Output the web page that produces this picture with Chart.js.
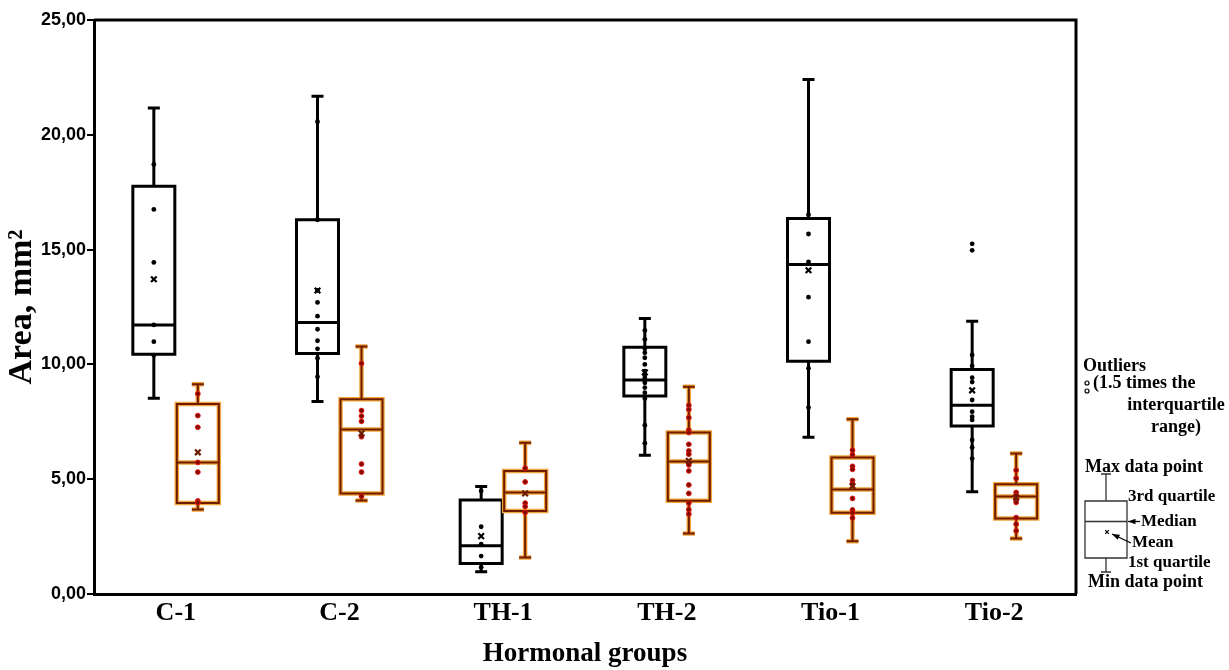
<!DOCTYPE html>
<html>
<head>
<meta charset="utf-8">
<title>Hormonal groups – area</title>
<script src="https://cdn.jsdelivr.net/npm/chart.js@4.4.1/dist/chart.umd.min.js"></script>
<style>
  html, body { margin: 0; padding: 0; background: #fff; }
  #wrap { width: 1229px; height: 670px; }
</style>
</head>
<body>
<div id="wrap"><canvas id="boxChart" width="1229" height="670"></canvas></div>
<script>
// --- data ---
const groups = ['C-1', 'C-2', 'TH-1', 'TH-2', 'Tio-1', 'Tio-2'];
const yTicks = [0, 5, 10, 15, 20, 25];

// black boxes
const blackMin    = [8.53, 8.38, 0.97, 6.04, 6.83, 4.45];
const blackQ1     = [10.44, 10.47, 1.33, 8.62, 10.14, 7.32];
const blackMedian = [11.72, 11.83, 2.10, 9.32, 14.35, 8.22];
const blackQ3     = [17.76, 16.30, 4.09, 10.75, 16.35, 9.78];
const blackMax    = [21.17, 21.68, 4.68, 12.00, 22.41, 11.88];
const blackMean   = [13.71, 13.22, 2.52, 9.65, 14.10, 8.87];
const blackPoints = [
  [18.71, 16.75, 14.44, 11.72, 10.99, 10.40],
  [20.57, 16.30, 13.22, 12.70, 12.10, 11.53, 11.03, 10.68, 10.27, 9.46],
  [4.49, 2.93, 2.17, 1.65, 1.16],
  [11.48, 11.09, 10.68, 10.51, 10.29, 10.00, 9.71, 9.57, 9.42, 9.20, 8.99, 8.77, 8.51, 7.35, 6.57],
  [16.52, 15.68, 14.46, 12.93, 10.99, 9.83, 8.12],
  [15.25, 14.97, 10.41, 9.93, 9.42, 9.23, 8.45, 7.94, 7.72, 7.58, 6.71, 6.38, 5.90]
];

// orange boxes
const orangeMin    = [3.68, 4.07, 1.59, 2.64, 2.30, 2.42];
const orangeQ1     = [3.96, 4.38, 3.61, 4.06, 3.54, 3.29];
const orangeMedian = [5.73, 7.16, 4.42, 5.77, 4.55, 4.25];
const orangeQ3     = [8.27, 8.48, 5.36, 7.03, 5.95, 4.78];
const orangeMax    = [9.14, 10.78, 6.59, 9.03, 7.61, 6.12];
const orangeMean   = [6.17, 7.00, 4.38, 5.80, 4.70, 4.20];
const orangePoints = [
  [8.72, 7.77, 7.26, 5.73, 5.31, 4.05, 3.98],
  [10.04, 7.99, 7.75, 7.52, 6.85, 5.66, 5.31, 4.26],
  [5.48, 4.88, 3.96, 3.81, 3.55],
  [8.22, 8.04, 7.68, 7.14, 7.03, 6.52, 6.23, 6.09, 5.62, 5.36, 4.75, 4.38, 3.96, 3.67, 3.48],
  [6.26, 6.06, 5.56, 5.43, 4.94, 4.78, 4.16, 3.66, 3.54, 3.31],
  [5.39, 5.04, 4.42, 4.28, 4.13, 3.99, 3.33, 3.04, 2.75]
];

const series = [
  { min: blackMin, q1: blackQ1, med: blackMedian, q3: blackQ3, max: blackMax, mean: blackMean, pts: blackPoints,
    strokes: [{ c: '#000', w: 3 }], dot: '#000', dotEdge: null, meanColor: '#000' },
  { min: orangeMin, q1: orangeQ1, med: orangeMedian, q3: orangeQ3, max: orangeMax, mean: orangeMean, pts: orangePoints,
    strokes: [{ c: '#f2a33a', w: 4.5 }, { c: '#6e1c00', w: 2 }], dot: '#7d0c00', dotEdge: '#e3150f', meanColor: '#6e1c00' }
];

const serif = '"Liberation Serif", "Times New Roman", serif';
const sans = '"Liberation Sans", Arial, sans-serif';

function strokePath(ctx, strokes, draw) {
  strokes.forEach(s => {
    ctx.beginPath();
    draw();
    ctx.strokeStyle = s.c;
    ctx.lineWidth = s.w;
    ctx.stroke();
  });
}

function drawCross(ctx, x, y, r, color, w) {
  ctx.beginPath();
  ctx.moveTo(x - r, y - r); ctx.lineTo(x + r, y + r);
  ctx.moveTo(x + r, y - r); ctx.lineTo(x - r, y + r);
  ctx.strokeStyle = color;
  ctx.lineWidth = w;
  ctx.stroke();
}

function arrow(ctx, x1, y1, x2, y2) {
  // line from (x1,y1) with head at (x2,y2)
  const a = Math.atan2(y2 - y1, x2 - x1);
  ctx.beginPath();
  ctx.moveTo(x1, y1); ctx.lineTo(x2, y2);
  ctx.lineWidth = 1.3;
  ctx.stroke();
  ctx.beginPath();
  ctx.moveTo(x2, y2);
  ctx.lineTo(x2 - 8 * Math.cos(a - 0.35), y2 - 8 * Math.sin(a - 0.35));
  ctx.lineTo(x2 - 8 * Math.cos(a + 0.35), y2 - 8 * Math.sin(a + 0.35));
  ctx.closePath();
  ctx.fill();
}

// whiskers, boxes, medians, points and means on top of the floating bars
const boxExtras = {
  id: 'boxExtras',
  afterDatasetsDraw(chart) {
    const ctx = chart.ctx;
    const ys = chart.scales.y;
    ctx.save();
    series.forEach((s, di) => {
      const meta = chart.getDatasetMeta(di);
      meta.data.forEach((bar, i) => {
        const { x, width } = bar.getProps(['x', 'width'], true);
        const l = x - width / 2, r = x + width / 2;
        const pMin = ys.getPixelForValue(s.min[i]);
        const pQ1 = ys.getPixelForValue(s.q1[i]);
        const pMed = ys.getPixelForValue(s.med[i]);
        const pQ3 = ys.getPixelForValue(s.q3[i]);
        const pMax = ys.getPixelForValue(s.max[i]);
        const cap = 6;
        strokePath(ctx, s.strokes, () => {
          ctx.moveTo(x, pQ3); ctx.lineTo(x, pMax);
          ctx.moveTo(x - cap, pMax); ctx.lineTo(x + cap, pMax);
          ctx.moveTo(x, pQ1); ctx.lineTo(x, pMin);
          ctx.moveTo(x - cap, pMin); ctx.lineTo(x + cap, pMin);
          ctx.rect(l, pQ3, r - l, pQ1 - pQ3);
          ctx.moveTo(l, pMed); ctx.lineTo(r, pMed);
        });
        s.pts[i].forEach(v => {
          ctx.beginPath();
          ctx.arc(x, ys.getPixelForValue(v), 2.4, 0, Math.PI * 2);
          ctx.fillStyle = s.dot;
          ctx.fill();
          if (s.dotEdge) {
            ctx.strokeStyle = s.dotEdge;
            ctx.lineWidth = 1;
            ctx.stroke();
          }
        });
        drawCross(ctx, x, ys.getPixelForValue(s.mean[i]), 2.8, s.meanColor, 2.2);
      });
    });
    ctx.restore();
  },
  afterDraw(chart) {
    const ctx = chart.ctx;
    const a = chart.chartArea;
    ctx.save();
    // top and right frame
    ctx.beginPath();
    ctx.moveTo(a.left, a.top); ctx.lineTo(a.right, a.top); ctx.lineTo(a.right, a.bottom);
    ctx.strokeStyle = '#000';
    ctx.lineWidth = 3;
    ctx.stroke();

    // side key
    ctx.fillStyle = '#000';
    ctx.strokeStyle = '#000';
    ctx.font = 'bold 18px ' + serif;
    ctx.textBaseline = 'middle';
    ctx.textAlign = 'left';
    ctx.fillText('Outliers', 1083, 366);
    ctx.lineWidth = 1.2;
    [383, 391].forEach(cy => { ctx.beginPath(); ctx.arc(1087, cy, 2, 0, Math.PI * 2); ctx.stroke(); });
    ctx.fillText('(1.5 times the', 1093, 383);
    ctx.textAlign = 'center';
    ctx.fillText('interquartile', 1176, 405);
    ctx.fillText('range)', 1176, 427);
    ctx.textAlign = 'left';
    ctx.fillText('Max data point', 1085, 467);
    ctx.font = 'bold 17px ' + serif;
    ctx.fillText('3rd quartile', 1128, 497);
    ctx.fillText('Median', 1141, 522);
    ctx.fillText('Mean', 1132, 543);
    ctx.fillText('1st quartile', 1128, 563);
    ctx.font = 'bold 18px ' + serif;
    ctx.fillText('Min data point', 1088, 582);

    ctx.strokeStyle = '#333';
    ctx.lineWidth = 1.3;
    ctx.beginPath();
    ctx.moveTo(1106, 474); ctx.lineTo(1106, 501);
    ctx.moveTo(1101, 474); ctx.lineTo(1111, 474);
    ctx.rect(1085, 501, 42, 57);
    ctx.moveTo(1085, 521.5); ctx.lineTo(1127, 521.5);
    ctx.moveTo(1106, 558); ctx.lineTo(1106, 572);
    ctx.moveTo(1101, 572); ctx.lineTo(1111, 572);
    ctx.stroke();
    drawCross(ctx, 1107, 532, 1.8, '#000', 1.2);
    ctx.strokeStyle = '#000';
    arrow(ctx, 1140, 521.5, 1128, 521.5);
    arrow(ctx, 1131, 543, 1112, 534);
    ctx.restore();
  }
};

new Chart(document.getElementById('boxChart'), {
  type: 'bar',
  data: {
    labels: groups,
    datasets: series.map(s => ({
      data: groups.map((g, i) => [s.q1[i], s.q3[i]]),
      backgroundColor: '#fff',
      borderWidth: 0,
      categoryPercentage: 0.5376,
      barPercentage: 0.9545
    }))
  },
  options: {
    responsive: false,
    animation: false,
    layout: { padding: { top: 20, right: 153, left: 0, bottom: 0 } },
    plugins: { legend: { display: false }, tooltip: { enabled: false } },
    scales: {
      x: {
        grid: { display: false, drawTicks: false },
        border: { display: true, color: '#000', width: 3 },
        ticks: { color: '#000', padding: 4, font: { family: serif, size: 26, weight: 'bold' } },
        title: { display: true, text: 'Hormonal groups', color: '#000', padding: 0,
                 font: { family: serif, size: 27, weight: 'bold' } },
        afterFit(scale) { scale.height = 76; }
      },
      y: {
        min: yTicks[0],
        max: yTicks[yTicks.length - 1],
        afterBuildTicks(scale) { scale.ticks = yTicks.map(v => ({ value: v })); },
        ticks: {
          color: '#000', padding: 1,
          font: { family: sans, size: 18, weight: 'bold' },
          callback: v => v.toFixed(2).replace('.', ',')
        },
        grid: { drawOnChartArea: false, drawTicks: true, tickLength: 7, color: '#000', lineWidth: 2 },
        border: { display: true, color: '#000', width: 3 },
        title: { display: true, text: 'Area, mm²', color: '#000', padding: 2,
                 font: { family: serif, size: 34, weight: 'bold' } },
        afterFit(scale) { scale.width = 94; }
      }
    }
  },
  plugins: [boxExtras]
});
</script>
</body>
</html>
